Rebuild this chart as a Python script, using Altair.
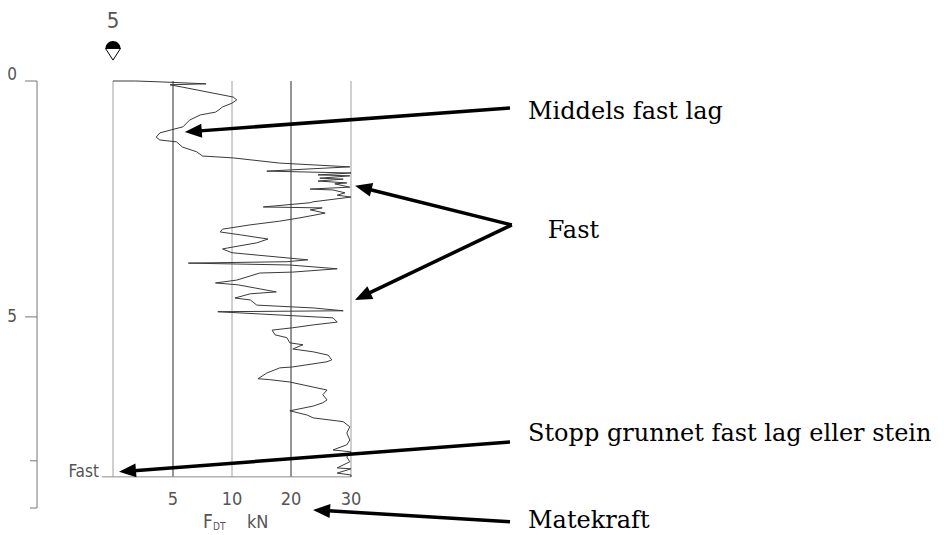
import altair as alt
import pandas as pd

# ---- sounding curve (force in kN, depth in m) ----
force_kN = [0, 1.9, 4.1, 7.8, 4.75, 5.8, 10.2, 10.8, 10.0, 9.2, 8.9, 8.6, 7.3, 6.4, 5.85,
            3.9, 3.6, 3.9, 5.3, 5.8, 7.0, 7.5, 10.2, 18.1, 29.8, 15.9, 30.0, 24.5, 29.8, 24.8,
            28.7, 24.5, 29.3, 27.3, 29.8, 23.2, 27.0, 29.0, 27.7, 30.0, 23.7, 23.2, 15.3, 25.2,
            23.2, 25.7, 21.5, 18.1, 13.05, 9.2, 9.0, 11.4, 16.1, 14.2, 9.6, 9.2, 10.0, 22.8,
            19.3, 6.3, 19.8, 27.7, 20.3, 14.7, 10.8, 8.6, 11.0, 17.5, 13.1, 10.5, 13.1, 14.2,
            23.7, 28.7, 8.8, 27.0, 27.7, 23.7, 20.3, 16.8, 17.3, 19.3, 19.8, 22.0, 20.3, 23.7,
            26.2, 26.8, 26.0, 20.3, 18.1, 15.9, 14.4, 16.4, 19.8, 26.0, 25.3, 26.0, 25.3, 23.7,
            19.8, 22.7, 23.7, 28.7, 29.8, 29.3, 29.8, 29.3, 27.0, 30.0, 29.3, 29.8, 27.7, 30.0,
            27.7, 30.0, 30.0]
depth_m = [0, 0, 0.02, 0.06, 0.08, 0.13, 0.34, 0.40, 0.47, 0.55, 0.61, 0.66, 0.72, 0.83, 0.97,
           1.10, 1.19, 1.25, 1.29, 1.40, 1.50, 1.59, 1.63, 1.74, 1.82, 1.91, 1.95, 1.99, 2.01, 2.06,
           2.08, 2.12, 2.16, 2.18, 2.25, 2.29, 2.31, 2.37, 2.42, 2.46, 2.56, 2.58, 2.67, 2.69,
           2.73, 2.80, 2.90, 2.97, 3.05, 3.14, 3.20, 3.26, 3.35, 3.43, 3.54, 3.56, 3.64, 3.79,
           3.83, 3.86, 3.90, 3.98, 4.05, 4.07, 4.22, 4.28, 4.32, 4.47, 4.51, 4.60, 4.64, 4.75,
           4.81, 4.87, 4.89, 5.02, 5.11, 5.17, 5.23, 5.28, 5.38, 5.44, 5.55, 5.59, 5.68, 5.74,
           5.81, 5.91, 5.95, 6.06, 6.08, 6.19, 6.31, 6.33, 6.38, 6.55, 6.65, 6.76, 6.82, 6.89,
           6.99, 7.08, 7.14, 7.22, 7.33, 7.46, 7.61, 7.71, 7.82, 7.86, 7.97, 8.07, 8.20, 8.22,
           8.31, 8.35, 8.39]

# ---- frame ----
grid_kN = [0, 5, 10, 20, 30]
grid_tone = ["light", "dark", "light", "dark", "light"]
stop_depth = 8.39
bottom_line_start_kN = -0.92

# ---- depth axis (left) ----
depth_axis_kN = -6.33
depth_axis_range = [0, 9.05]
depth_tick_depth = [0, 5, 8.05, 9.05]
depth_tick_end_kN = [-7.33, -7.33, -6.92, -6.92]
depth_label_text = ["0", "5"]
depth_label_depth = [-0.13, 5.0]
depth_label_kN = -8.0

# ---- force axis labels (bottom) ----
force_tick_values = [5, 10, 20, 30]
force_label_depth = 8.88

# ---- annotations ----
ann_text = ["Middels fast lag", "Fast", "Stopp grunnet fast lag eller stein", "Matekraft"]
ann_kN = [59.5, 62.8, 59.5, 59.5]
ann_depth = [0.80, 3.33, 7.63, 9.47]

arrow_tail_kN = [56.5, 56.8, 56.8, 56.5, 56.5]
arrow_tail_depth = [0.57, 3.05, 3.05, 7.65, 9.34]
arrow_base_kN = [7.29, 33.1, 32.9, 1.75, 26.2]
arrow_base_depth = [1.057, 2.30, 4.50, 8.26, 9.11]
arrow_tip_kN = [6.0, 30.67, 30.67, 0.5, 23.67]
arrow_tip_depth = [1.08, 2.22, 4.64, 8.28, 9.09]
arrow_angle = [355.8, 14.0, 334.5, 355.6, 3.5]

stop_label = ["Fast"]
stop_label_kN = [-1.17]
top_label = ["5"]
top_label_kN = [0]
top_label_depth = [-1.12]
unit_labels = ["F", "DT", "kN"]
unit_kN = [7.54, 8.39, 12.54]
unit_depth = [9.47, 9.52, 9.47]
unit_size = [19, 10, 18]

symbol_kN = [0]
symbol_depth = [-0.69]

SANS = "Liberation Sans Narrow, DejaVu Sans Condensed, Liberation Sans, sans-serif"
SERIF = "DejaVu Serif, Liberation Serif, serif"
GREY = "#555555"
AXIS_GREY = "#777777"

xs = alt.Scale(domain=[0, 5, 10, 20, 30], range=[0, 60, 119, 178, 238], nice=False, zero=False)
ys = alt.Scale(domain=[0, 9.05], range=[0, 427], nice=False, zero=False)


def X(field):
    return alt.X(field, type="quantitative", scale=xs, axis=None)


def Y(field):
    return alt.Y(field, type="quantitative", scale=ys, axis=None)


curve_df = pd.DataFrame({"i": range(len(force_kN)), "kN": force_kN, "depth": depth_m})
grid_df = pd.DataFrame({"kN": grid_kN, "tone": grid_tone, "top": 0.0, "bot": stop_depth})
base_df = pd.DataFrame({"k1": [bottom_line_start_kN], "k2": [30], "d": [stop_depth]})
axis_line_df = pd.DataFrame({"k": [depth_axis_kN], "d1": [depth_axis_range[0]], "d2": [depth_axis_range[1]]})
axis_tick_df = pd.DataFrame({"k1": depth_tick_end_kN, "k2": depth_axis_kN, "d": depth_tick_depth})
axis_lab_df = pd.DataFrame({"t": depth_label_text, "k": depth_label_kN, "d": depth_label_depth})
force_lab_df = pd.DataFrame({"t": [str(v) for v in force_tick_values], "k": force_tick_values,
                             "d": force_label_depth})
ann_df = pd.DataFrame({"t": ann_text, "kN": ann_kN, "depth": ann_depth})
arrow_df = pd.DataFrame({
    "tk": arrow_tail_kN, "td": arrow_tail_depth,
    "bk": arrow_base_kN, "bd": arrow_base_depth,
    "pk": arrow_tip_kN, "pd": arrow_tip_depth, "ang": arrow_angle,
})
stop_df = pd.DataFrame({"t": stop_label, "kN": stop_label_kN, "depth": [stop_depth]})
top_df = pd.DataFrame({"t": top_label, "kN": top_label_kN, "depth": top_label_depth})
unit_df = pd.DataFrame({"t": unit_labels, "kN": unit_kN, "depth": unit_depth, "size": unit_size})
sym_df = pd.DataFrame({"kN": symbol_kN, "depth": symbol_depth})

grid = alt.Chart(grid_df).mark_rule(strokeWidth=1).encode(
    x=X("kN"), y=Y("top"), y2="bot",
    color=alt.Color("tone:N", scale=alt.Scale(domain=["light", "dark"], range=["#a0a0a0", "#2a2a2a"]),
                    legend=None),
)
base = alt.Chart(base_df).mark_rule(strokeWidth=1, color="#8a8a8a").encode(
    x=X("k1"), x2="k2", y=Y("d"),
)
axis_line = alt.Chart(axis_line_df).mark_rule(strokeWidth=1, color=AXIS_GREY).encode(
    x=X("k"), y=Y("d1"), y2="d2",
)
axis_ticks = alt.Chart(axis_tick_df).mark_rule(strokeWidth=1, color=AXIS_GREY).encode(
    x=X("k1"), x2="k2", y=Y("d"),
)
axis_labels = alt.Chart(axis_lab_df).mark_text(
    align="right", baseline="middle", font=SANS, fontSize=17, color=GREY,
).encode(x=X("k"), y=Y("d"), text="t:N")
force_labels = alt.Chart(force_lab_df).mark_text(
    align="center", baseline="middle", font=SANS, fontSize=18, color=GREY,
).encode(x=X("k"), y=Y("d"), text="t:N")

curve = alt.Chart(curve_df).mark_line(strokeWidth=1, color="#3a3a3a", clip=False).encode(
    x=X("kN"), y=Y("depth"), order=alt.Order("i:Q"),
)
arrows = alt.Chart(arrow_df).mark_rule(strokeWidth=3.5, color="black", strokeCap="butt").encode(
    x=X("tk"), y=Y("td"), x2="bk", y2="bd",
)
heads = alt.Chart(arrow_df).mark_point(
    shape="M0,0 L2,-0.82 L2,0.82 Z", filled=True, color="black", size=289, opacity=1,
).encode(x=X("pk"), y=Y("pd"), angle=alt.Angle("ang:Q", scale=None))

ann = alt.Chart(ann_df).mark_text(
    align="left", baseline="alphabetic", font=SERIF, fontSize=24, color="black",
).encode(x=X("kN"), y=Y("depth"), text="t:N")

stop_txt = alt.Chart(stop_df).mark_text(
    align="right", baseline="alphabetic", font=SANS, fontSize=17, color=GREY,
).encode(x=X("kN"), y=Y("depth"), text="t:N")
top_txt = alt.Chart(top_df).mark_text(
    align="center", baseline="alphabetic", font=SANS, fontSize=22, color=GREY,
).encode(x=X("kN"), y=Y("depth"), text="t:N")
unit_txt = alt.Chart(unit_df).mark_text(
    align="left", baseline="alphabetic", font=SANS, color=GREY,
).encode(x=X("kN"), y=Y("depth"), text="t:N",
         size=alt.Size("size:Q", scale=None, legend=None))

tri = alt.Chart(sym_df).mark_point(
    shape="M-1,0 L1,0 L0,1.55 Z", filled=True, fill="white", stroke="black", strokeWidth=1,
    size=225, opacity=1,
).encode(x=X("kN"), y=Y("depth"))
half = alt.Chart(sym_df).mark_point(
    shape="M-1,0 A1,1 0 0 1 1,0 Z", filled=True, color="black", size=225, opacity=1,
).encode(x=X("kN"), y=Y("depth"))

chart = alt.layer(
    grid, base, axis_line, axis_ticks, axis_labels, force_labels, curve, arrows, heads,
    ann, stop_txt, top_txt, unit_txt, tri, half,
).properties(
    width=238, height=427,
    autosize=alt.AutoSizeParams(type="none"),
    padding={"left": 105, "top": 73, "right": 585, "bottom": 27},
    background="white",
).configure_view(stroke=None)

chart.save("out.html", embed_options={"renderer": "svg", "actions": False})
